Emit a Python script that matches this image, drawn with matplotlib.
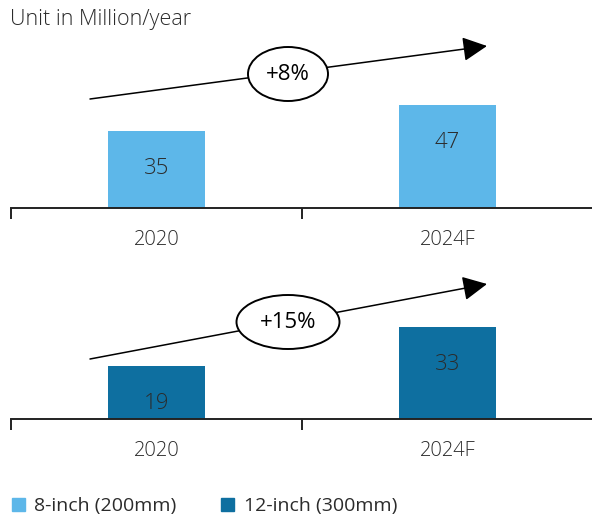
import matplotlib
matplotlib.use("Agg")
import matplotlib.pyplot as plt
from matplotlib.patches import Ellipse, Patch, FancyArrowPatch

plt.rcParams['font.family'] = ['Open Sans', 'DejaVu Sans']

years = ["2020", "2024F"]
wafer_8inch = [35, 47]
wafer_12inch = [19, 33]
growth_8inch = "+8%"
growth_12inch = "+15%"

light_blue = "#5db7e9"
dark_blue = "#0e6fa0"
text_grey = "#2b2b2b"

W, H = 592, 522
fig = plt.figure(figsize=(W / 100, H / 100), dpi=100)


def px(x0, y0, x1, y1):
    # pixel box (top-left origin) -> figure fraction rect
    return [x0 / W, 1 - y1 / H, (x1 - x0) / W, (y1 - y0) / H]


def panel(rect, values, color, ymax):
    ax = fig.add_axes(rect)
    xs = range(len(values))
    ax.bar(xs, values, width=0.335, color=color)
    for x, v in zip(xs, values):
        ax.annotate(str(v), (x, v), xytext=(0, -27), textcoords="offset points",
                    ha="center", va="center", fontsize=16, color=text_grey,
                    fontweight="light")
    ax.set_xlim(-0.5, len(values) - 0.5)
    ax.set_ylim(0, ymax)
    for s in ["top", "right", "left"]:
        ax.spines[s].set_visible(False)
    ax.spines["bottom"].set_linewidth(1.4)
    ax.spines["bottom"].set_color("#222222")
    ax.set_yticks([])
    ax.set_xticks([i - 0.5 for i in range(len(values) + 1)])
    ax.set_xticklabels([])
    ax.tick_params(axis="x", which="major", length=8, width=1.4, color="#222222")
    ax.set_xticks(list(xs), minor=True)
    ax.set_xticklabels(years, minor=True, fontsize=14.5, color=text_grey,
                       fontweight="light")
    ax.tick_params(axis="x", which="minor", length=0, pad=16)
    return ax


def growth_arrow(start, end, centre, size, label):
    to_fig = lambda p: (p[0] / W, 1 - p[1] / H)
    fig.patches.append(FancyArrowPatch(
        to_fig(start), to_fig(end), transform=fig.transFigure,
        arrowstyle="-|>,head_length=1.0,head_width=0.5", mutation_scale=15,
        lw=1.1, color="black", shrinkA=0, shrinkB=0, zorder=5))
    e = Ellipse(to_fig(centre), size[0] / W, size[1] / H, transform=fig.transFigure,
                facecolor="white", edgecolor="black", lw=1.4, zorder=6)
    fig.patches.append(e)
    fig.text(*to_fig(centre), label, ha="center", va="center", fontsize=16,
             color="black", zorder=7)


# top panel: 8-inch
panel(px(11, 30, 593, 208), wafer_8inch, light_blue, 178 / 2.19)
# bottom panel: 12-inch
panel(px(11, 260, 593, 419), wafer_12inch, dark_blue, 159 / 2.79)

growth_arrow((90, 99), (487, 46), (288, 74), (80, 54), growth_8inch)
growth_arrow((90, 359), (487, 284), (288, 322), (103, 54), growth_12inch)

fig.text(10 / W, 1 - 19 / H, "Unit in Million/year", ha="left", va="center",
         fontsize=15.5, color=text_grey, fontweight="light")

handles = [Patch(color=light_blue, label="8-inch (200mm)"),
           Patch(color=dark_blue, label="12-inch (300mm)")]
fig.legend(handles=handles, loc="center left", bbox_to_anchor=(12 / W, 1 - 506 / H),
           ncol=2, frameon=False, fontsize=14, labelcolor=text_grey,
           handlelength=0.65, handleheight=0.65, handletextpad=0.5, columnspacing=2.3,
           borderaxespad=0, borderpad=0)

fig.savefig("out.png", dpi=100)
